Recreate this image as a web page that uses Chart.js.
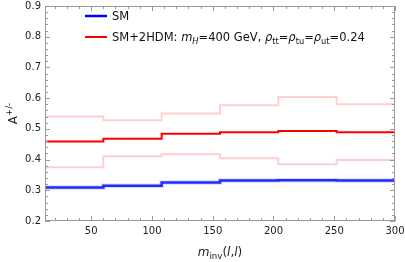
<!DOCTYPE html>
<html>
<head>
<meta charset="utf-8">
<script src="https://cdn.jsdelivr.net/npm/chart.js@4.4.1/dist/chart.umd.min.js"></script>
<style>
  html, body { margin: 0; padding: 0; background: #fff; }
  #wrap { width: 405px; height: 262px; }
</style>
</head>
<body>
<div id="wrap"><canvas id="chart"></canvas></div>
<script>
// bin edges in m_inv(l,l)
const binEdges = [12, 60, 108, 156, 204, 252, 300];
// asymmetry per bin
const smValues = [0.309, 0.315, 0.325, 0.332, 0.333, 0.332];
const bsmValues = [0.459, 0.468, 0.484, 0.489, 0.493, 0.489];
const bsmUpper = [0.540, 0.528, 0.550, 0.577, 0.604, 0.580];
const bsmLower = [0.375, 0.411, 0.417, 0.404, 0.385, 0.399];
const xTicks = [50, 100, 150, 200, 250, 300];
const yTicks = [0.2, 0.3, 0.4, 0.5, 0.6, 0.7, 0.8, 0.9];

function steps(vals) {
  const pts = vals.map((v, i) => ({ x: binEdges[i], y: v }));
  pts.push({ x: binEdges[binEdges.length - 1], y: vals[vals.length - 1] });
  return pts;
}

const FONT = '"DejaVu Sans", sans-serif';

// draws a run of text pieces, some italic / sub / sup
function richText(ctx, parts, x, y, size) {
  let cx = x;
  parts.forEach(p => {
    const s = (p.sub || p.sup) ? size * 0.72 : size;
    ctx.font = (p.it ? 'italic ' : '') + s + 'px ' + FONT;
    let dy = 0;
    if (p.sub) dy = size * 0.25;
    if (p.sup) dy = -size * 0.4;
    ctx.fillText(p.t, cx, y + dy);
    cx += ctx.measureText(p.t).width;
  });
  return cx - x;
}
function richWidth(ctx, parts, size) {
  let w = 0;
  parts.forEach(p => {
    const s = (p.sub || p.sup) ? size * 0.72 : size;
    ctx.font = (p.it ? 'italic ' : '') + s + 'px ' + FONT;
    w += ctx.measureText(p.t).width;
  });
  return w;
}

const frame = {
  id: 'frame',
  afterDraw(chart) {
    const ctx = chart.ctx;
    const a = chart.chartArea;
    const xs = chart.scales.x, ys = chart.scales.y;
    ctx.save();
    ctx.fillStyle = '#999999';
    ctx.fillRect(a.left, a.top, a.right - a.left, 1);
    ctx.fillRect(a.left, a.bottom - 1, a.right - a.left, 1);
    ctx.fillRect(a.left, a.top, 1, a.bottom - a.top);
    ctx.fillRect(a.right - 1, a.top, 1, a.bottom - a.top);
    for (let v = 20; v <= 300; v += 10) {
      const px = Math.round(xs.getPixelForValue(v));
      const len = v % 50 === 0 ? 5 : 3;
      ctx.fillRect(px, a.bottom - len, 1, len);
      ctx.fillRect(px, a.top, 1, len);
    }
    for (let k = 0; k <= 35; k++) {
      const py = Math.round(ys.getPixelForValue(0.2 + k * 0.02));
      const len = k % 5 === 0 ? 5 : 3;
      ctx.fillRect(a.left, py, len, 1);
      ctx.fillRect(a.right - len, py, len, 1);
    }

    // legend
    ctx.textBaseline = 'alphabetic';
    ctx.textAlign = 'left';
    ctx.fillStyle = '#111';
    const lx = 85, ly1 = 16, ly2 = 37;
    ctx.lineWidth = 2.5;
    ctx.strokeStyle = '#0000ff';
    ctx.beginPath(); ctx.moveTo(lx, ly1); ctx.lineTo(lx + 22, ly1); ctx.stroke();
    ctx.lineWidth = 2;
    ctx.strokeStyle = '#ff0000';
    ctx.beginPath(); ctx.moveTo(lx, ly2); ctx.lineTo(lx + 22, ly2); ctx.stroke();
    richText(ctx, [{ t: 'SM' }], 112, ly1 + 4, 11.5);
    richText(ctx, [
      { t: 'SM+2HDM: ' }, { t: 'm', it: true }, { t: 'H', it: true, sub: true },
      { t: '=400 GeV, ' }, { t: 'ρ', it: true }, { t: 'tt', sub: true },
      { t: '=' }, { t: 'ρ', it: true }, { t: 'tu', sub: true },
      { t: '=' }, { t: 'ρ', it: true }, { t: 'ut', sub: true }, { t: '=0.24' }
    ], 112, ly2 + 4, 11.5);

    // x title
    ctx.fillStyle = '#222';
    const xt = [{ t: 'm', it: true }, { t: 'inv', sub: true }, { t: '(' }, { t: 'l', it: true },
      { t: ',' }, { t: 'l', it: true }, { t: ')' }];
    const w = richWidth(ctx, xt, 12);
    richText(ctx, xt, (a.left + a.right) / 2 - w / 2, 256, 12);

    // y title
    ctx.translate(17, (a.top + a.bottom) / 2);
    ctx.rotate(-Math.PI / 2);
    const yt = [{ t: 'A' }, { t: '+/-', sup: true }];
    const wy = richWidth(ctx, yt, 12);
    richText(ctx, yt, -wy / 2, 0, 12);
    ctx.restore();
  }
};

function line(vals, color, width) {
  return {
    data: steps(vals),
    borderColor: color,
    borderWidth: width,
    stepped: 'before',
    pointRadius: 0,
    fill: false
  };
}

new Chart(document.getElementById('chart'), {
  type: 'line',
  data: {
    datasets: [
      line(bsmUpper, '#ffcfcf', 2),
      line(bsmLower, '#ffcfcf', 2),
      line(smValues, 'rgba(120,140,255,0.3)', 4.5),
      line(smValues, '#0000ff', 2.5),
      line(bsmValues, '#ff0000', 2)
    ]
  },
  options: {
    responsive: true,
    maintainAspectRatio: false,
    animation: false,
    layout: { padding: { top: 6, right: 10, left: 0, bottom: 0 } },
    plugins: { legend: { display: false }, tooltip: { enabled: false } },
    scales: {
      x: {
        type: 'linear', min: 12, max: 300,
        afterBuildTicks: s => { s.ticks = xTicks.map(v => ({ value: v })); },
        afterFit: s => { s.height = 41; s.paddingLeft = 0; s.paddingRight = 0; },
        grid: { display: false, drawTicks: false },
        border: { display: false },
        ticks: { color: '#222', font: { family: FONT, size: 10 }, padding: 4, maxRotation: 0 }
      },
      y: {
        min: 0.2, max: 0.9,
        afterBuildTicks: s => { s.ticks = yTicks.map(v => ({ value: v })); },
        afterFit: s => { s.width = 45; s.paddingTop = 0; s.paddingBottom = 0; },
        grid: { display: false, drawTicks: false },
        border: { display: false },
        ticks: { color: '#222', font: { family: FONT, size: 10 }, padding: 4,
          callback: v => v.toFixed(1) }
      }
    }
  },
  plugins: [frame]
});
</script>
</body>
</html>
